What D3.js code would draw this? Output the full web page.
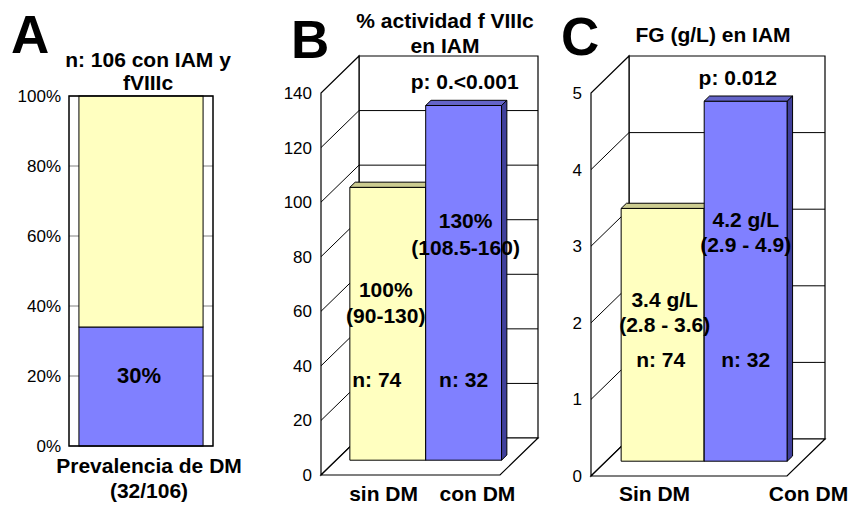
<!DOCTYPE html>
<html>
<head>
<meta charset="utf-8">
<script src="https://cdn.jsdelivr.net/npm/d3@7"></script>
<style>
  body { margin: 0; background: #fff; }
  text { font-family: "Liberation Sans", Arial, sans-serif; fill: #000; }
</style>
</head>
<body>
<div id="chart"></div>
<script>
// Panel A: prevalence of DM (stacked 100% bar)
const prevCategory = ["Prevalencia de DM"];
const prevSeries = ["con DM", "sin DM"];
const prevValues = [34, 66];
const prevTicks = [0, 20, 40, 60, 80, 100];

// Panel B: % actividad f VIIIc
const fviiiCategories = ["sin DM", "con DM"];
const fviiiValues = [100, 130];
const fviiiTicks = [0, 20, 40, 60, 80, 100, 120, 140];
const fviiiLabels = [["100%", "(90-130)", "n: 74"], ["130%", "(108.5-160)", "n: 32"]];

// Panel C: FG (g/L)
const fgCategories = ["Sin DM", "Con DM"];
const fgValues = [3.3, 4.7];
const fgTicks = [0, 1, 2, 3, 4, 5];
const fgLabels = [["3.4 g/L", "(2.8 - 3.6)", "n: 74"], ["4.2 g/L", "(2.9 - 4.9)", "n: 32"]];

const yellow = "#ffffc0", yellowTop = "#cccc90", yellowSide = "#a0a060";
const blue = "#8080ff", blueTop = "#6464c8", blueSide = "#40409c";

const svg = d3.select("#chart").append("svg")
    .attr("width", 853)
    .attr("height", 506);

svg.append("rect").attr("width", 853).attr("height", 506).attr("fill", "#fff");

// big panel letters
const letters = [["A", 11, 53], ["B", 291, 58], ["C", 561, 55]];
svg.selectAll("text.letter")
    .data(letters)
    .enter().append("text")
    .attr("class", "letter")
    .attr("x", d => d[1])
    .attr("y", d => d[2])
    .style("font-size", "53px")
    .style("font-weight", "bold")
    .text(d => d[0]);

function boldText(g, x, y, str, size) {
    return g.append("text")
        .attr("x", x)
        .attr("y", y)
        .attr("text-anchor", "middle")
        .style("font-size", (size || 21) + "px")
        .style("font-weight", "bold")
        .text(str);
}

// ---------- Panel A ----------
(function() {
    const g = svg.append("g");
    const x = d3.scaleBand().domain(prevCategory).range([69, 213]).paddingOuter(0.08);
    const y = d3.scaleLinear().domain([0, 100]).range([446, 96]);

    // gridlines
    g.selectAll("line.grid")
        .data(prevTicks)
        .enter().append("line")
        .attr("x1", 69).attr("x2", 213)
        .attr("y1", d => y(d)).attr("y2", d => y(d))
        .attr("stroke", "#808080");

    // stacked segments
    const stack = d3.stack().keys(prevSeries)([Object.fromEntries(prevSeries.map((k, i) => [k, prevValues[i]]))]);
    const colors = d3.scaleOrdinal().domain(prevSeries).range([blue, yellow]);
    g.selectAll("rect.seg")
        .data(stack)
        .enter().append("rect")
        .attr("x", x(prevCategory[0]))
        .attr("width", x.bandwidth())
        .attr("y", d => y(d[0][1]))
        .attr("height", d => y(d[0][0]) - y(d[0][1]))
        .attr("fill", d => colors(d.key))
        .attr("stroke", "#000")
        .attr("stroke-width", 1);

    // frame
    g.append("rect")
        .attr("x", 69).attr("y", 96)
        .attr("width", 144).attr("height", 350)
        .attr("fill", "none")
        .attr("stroke", "#000")
        .attr("stroke-width", 1.5);

    // y axis labels
    g.selectAll("text.tick")
        .data(prevTicks)
        .enter().append("text")
        .attr("x", 61)
        .attr("y", d => y(d) + 6)
        .attr("text-anchor", "end")
        .style("font-size", "17px")
        .text(d => d + "%");

    const cx = x(prevCategory[0]) + x.bandwidth() / 2;
    boldText(g, cx - 2, y(20) + 7, "30%", 22);

    boldText(g, 148, 67, "n: 106 con IAM y");
    boldText(g, 148, 90, "fVIIIc");
    boldText(g, 149, 473, prevCategory[0]);
    boldText(g, 149, 498, "(32/106)");
})();

// ---------- 3D panels ----------
function draw3D(cfg) {
    const g = svg.append("g");
    const dx = 38, dy = -37, zf = 0.4, zb = 0.54;
    const max = d3.max(cfg.ticks);
    const y = d3.scaleLinear().domain([0, max]).range([cfg.bottom, cfg.top]);
    const x = d3.scaleBand().domain(cfg.categories).range([cfg.x0, cfg.x1])
        .paddingInner(0).paddingOuter(0.18);
    const p = (px, v, z) => [px + z * dx, y(v) + z * dy];
    const poly = pts => "M" + pts.map(q => q.join(",")).join("L") + "Z";
    const x0 = cfg.x0, x1 = cfg.x1;

    // walls and floor
    const walls = [
        [p(x0, 0, 1), p(x0, max, 1), p(x1, max, 1), p(x1, 0, 1)],
        [p(x0, 0, 0), p(x0, max, 0), p(x0, max, 1), p(x0, 0, 1)],
        [p(x0, 0, 0), p(x1, 0, 0), p(x1, 0, 1), p(x0, 0, 1)]
    ];
    g.selectAll("path.wall")
        .data(walls)
        .enter().append("path")
        .attr("d", poly)
        .attr("fill", "#fff")
        .attr("stroke", "#000")
        .attr("stroke-width", 1.2);

    // gridlines on back and side walls
    const inner = cfg.ticks.filter(t => t > 0 && t < max);
    g.selectAll("path.grid")
        .data(inner)
        .enter().append("path")
        .attr("d", t => "M" + p(x0, t, 0) + "L" + p(x0, t, 1) + "L" + p(x1, t, 1))
        .attr("fill", "none")
        .attr("stroke", "#000")
        .attr("stroke-width", 1);

    // tick labels
    g.selectAll("text.tick")
        .data(cfg.ticks)
        .enter().append("text")
        .attr("x", x0 - 9)
        .attr("y", t => y(t) + 6)
        .attr("text-anchor", "end")
        .style("font-size", "17px")
        .text(t => t);

    // bars
    const bw = x.bandwidth();
    const bars = g.selectAll("g.bar")
        .data(cfg.categories.map((c, i) => ({ c, v: cfg.values[i], i })))
        .enter().append("g");
    bars.append("path")
        .attr("d", d => poly([p(x(d.c), 0, zf), p(x(d.c), d.v, zf), p(x(d.c) + bw, d.v, zf), p(x(d.c) + bw, 0, zf)]))
        .attr("fill", d => cfg.colors[d.i][0])
        .attr("stroke", "#000").attr("stroke-width", 1);
    bars.append("path")
        .attr("d", d => poly([p(x(d.c), d.v, zf), p(x(d.c), d.v, zb), p(x(d.c) + bw, d.v, zb), p(x(d.c) + bw, d.v, zf)]))
        .attr("fill", d => cfg.colors[d.i][1])
        .attr("stroke", "#000").attr("stroke-width", 1);
    bars.append("path")
        .attr("d", d => poly([p(x(d.c) + bw, 0, zf), p(x(d.c) + bw, d.v, zf), p(x(d.c) + bw, d.v, zb), p(x(d.c) + bw, 0, zb)]))
        .attr("fill", d => cfg.colors[d.i][2])
        .attr("stroke", "#000").attr("stroke-width", 1);

    // labels inside bars
    cfg.categories.forEach((c, i) => {
        const cx = p(x(c) + bw / 2, 0, zf)[0];
        cfg.labels[i].forEach((s, j) => {
            boldText(g, cx + cfg.labelDx[i][j], cfg.labelY[i][j], s);
        });
        // category label under axis
        boldText(g, x(c) + bw / 2 + cfg.catDx[i], 501, c);
    });

    // p value above the tallest bar
    const last = cfg.categories.length - 1;
    const top = p(x(cfg.categories[last]) + bw / 2, cfg.values[last], zf);
    boldText(g, top[0] + cfg.pDx, top[1] - 16, cfg.pText);

    cfg.title.forEach((s, j) => boldText(g, cfg.titleX, cfg.titleY[j], s));
}

draw3D({
    x0: 321, x1: 500, top: 93, bottom: 475,
    ticks: fviiiTicks, categories: fviiiCategories, values: fviiiValues,
    colors: [[yellow, yellowTop, yellowSide], [blue, blueTop, blueSide]],
    labels: fviiiLabels,
    labelY: [[297, 323, 387], [228, 255, 387]],
    labelDx: [[-2, -2, -11], [2, 2, 0]],
    catDx: [11, 29],
    pText: "p: 0.<0.001", pDx: 1,
    title: ["% actividad f VIIIc", "en IAM"], titleX: 445, titleY: [28, 53]
});

draw3D({
    x0: 591, x1: 787, top: 93, bottom: 476,
    ticks: fgTicks, categories: fgCategories, values: fgValues,
    colors: [[yellow, yellowTop, yellowSide], [blue, blueTop, blueSide]],
    labels: fgLabels,
    labelY: [[307, 332, 367], [227, 252, 367]],
    labelDx: [[2, 2, -2], [0, 0, 0]],
    catDx: [7, 78],
    pText: "p: 0.012", pDx: -8,
    title: ["FG (g/L) en IAM"], titleX: 713, titleY: [42]
});
</script>
</body>
</html>
